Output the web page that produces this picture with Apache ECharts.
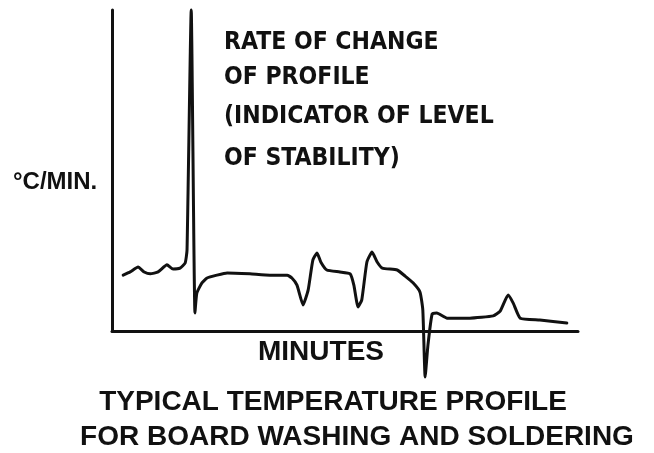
<!DOCTYPE html>
<html>
<head>
<meta charset="utf-8">
<script src="https://cdn.jsdelivr.net/npm/echarts@6/dist/echarts.min.js"></script>
<style>html,body{margin:0;padding:0;background:#fff}#c{width:654px;height:453px}</style>
</head>
<body>
<div id="c"></div>
<script>
// minutes (relative units 0..100)
var minutes = [2.4, 3.9, 5.6, 6.9, 8.2, 9.9, 11.8, 13.1, 14.6, 15.7, 16.1, 17.0, 17.8, 18.2, 19.3, 20.4, 22.5, 24.7, 29.6, 33.9, 37.6, 38.6, 39.7, 41.0, 42.1, 43.1, 44.0, 44.8, 46.1, 48.9, 51.1, 51.9, 52.8, 53.6, 54.7, 55.8, 56.9, 58.0, 61.2, 62.9, 64.6, 66.1, 66.7, 67.2, 67.8, 68.7, 69.7, 71.9, 76.8, 81.8, 83.3, 85.0, 86.1, 87.6, 91.8, 97.6];
// rate of change (°C/min, relative units)
var rateOfChange = [17.4, 18.4, 19.9, 18.4, 17.8, 18.4, 20.6, 19.3, 19.6, 21.2, 25.2, 100, 5.6, 11.8, 15.0, 16.5, 17.4, 18.1, 17.8, 17.4, 17.4, 16.5, 14.3, 8.1, 12.8, 22.1, 24.3, 21.5, 19.0, 18.4, 17.8, 14.3, 7.5, 9.7, 21.5, 24.6, 21.5, 19.6, 19.0, 17.1, 15.0, 12.1, 6.5, -14.3, -4.4, 5.3, 5.6, 4.0, 4.0, 4.7, 6.2, 11.2, 8.7, 4.0, 3.4, 2.5];
var yAxisLabel = '°C/MIN.';
var xAxisLabel = 'MINUTES';
var annotationLines = ['RATE OF CHANGE', 'OF PROFILE', '(INDICATOR OF LEVEL', 'OF STABILITY)'];
var titleLines = ['TYPICAL TEMPERATURE PROFILE', 'FOR BOARD WASHING AND SOLDERING'];

var data = minutes.map(function (m, i) { return [m, rateOfChange[i]]; });
var NARROW = "'DejaVu Sans Condensed', 'Liberation Sans', sans-serif";
var WIDE = "'Liberation Sans', Arial, sans-serif";

var annoY = [43, 78, 117, 159];
var titleX = [333, 357];
var titleY = [402, 437];

var graphics = [
  { type: 'text', style: { x: 13, y: 182, text: yAxisLabel, font: 'bold 24px ' + WIDE, fill: '#111', verticalAlign: 'middle' } },
  { type: 'text', style: { x: 258, y: 352, text: xAxisLabel, font: 'bold 28px ' + WIDE, fill: '#111', verticalAlign: 'middle' } }
];
annotationLines.forEach(function (t, i) {
  graphics.push({ type: 'text', style: { x: 224, y: annoY[i], text: t, font: 'bold 24.5px ' + NARROW, fill: '#111', verticalAlign: 'middle' } });
});
titleLines.forEach(function (t, i) {
  graphics.push({ type: 'text', style: { x: titleX[i], y: titleY[i], text: t, font: 'bold 28px ' + WIDE, fill: '#111', align: 'center', verticalAlign: 'middle' } });
});

var chart = echarts.init(document.getElementById('c'), null, { renderer: 'canvas' });
chart.setOption({
  backgroundColor: '#fff',
  animation: false,
  grid: { left: 112, right: 76, top: 10, bottom: 122 },
  xAxis: {
    type: 'value', min: 0, max: 100,
    axisLine: { onZero: true, lineStyle: { color: '#111', width: 3 } },
    axisTick: { show: false }, axisLabel: { show: false }, splitLine: { show: false }
  },
  yAxis: {
    type: 'value', min: 0, max: 100,
    axisLine: { show: true, lineStyle: { color: '#111', width: 3 } },
    axisTick: { show: false }, axisLabel: { show: false }, splitLine: { show: false }
  },
  series: [{
    type: 'line', data: data, clip: false, showSymbol: false, smooth: 0.15,
    lineStyle: { color: '#111', width: 3, join: 'round', cap: 'round' }
  }],
  graphic: graphics
});
</script>
</body>
</html>
